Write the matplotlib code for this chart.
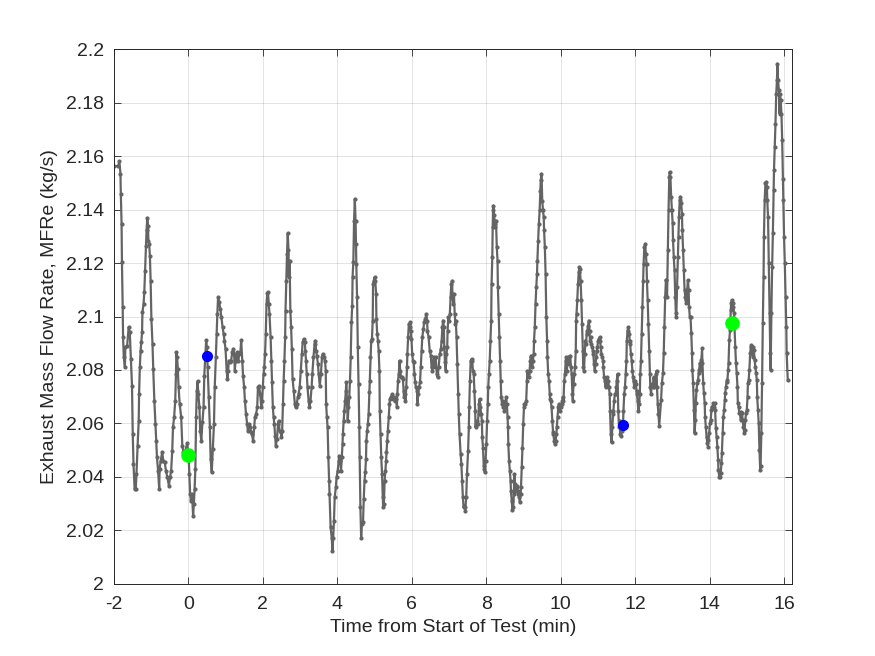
import matplotlib
matplotlib.use('Agg')
import matplotlib.pyplot as plt

plt.rcParams['font.family'] = ['Liberation Sans', 'DejaVu Sans']
plt.rcParams['axes.unicode_minus'] = False

# time from start of test (min) and exhaust mass flow rate (kg/s)
t_min = [
    -2.00, -1.88, -1.85, -1.82, -1.81, -1.79, -1.78, -1.76, -1.75, -1.73,
    -1.70, -1.69, -1.64, -1.60, -1.57, -1.54, -1.51, -1.49, -1.47, -1.44,
    -1.41, -1.39, -1.36, -1.33, -1.32, -1.30, -1.28, -1.26, -1.24, -1.23,
    -1.20, -1.18, -1.16, -1.14, -1.12, -1.10, -1.08, -1.07, -1.05, -1.03,
    -1.01, -0.99, -0.96, -0.94, -0.91, -0.88, -0.86, -0.84, -0.81, -0.78,
    -0.77, -0.74, -0.70, -0.67, -0.63, -0.60, -0.56, -0.52, -0.49, -0.46,
    -0.43, -0.41, -0.38, -0.35, -0.33, -0.32, -0.30, -0.28, -0.26, -0.23,
    -0.19, -0.16, -0.13, -0.08, -0.03, 0.01, 0.03, 0.05, 0.07, 0.10,
    0.13, 0.15, 0.17, 0.19, 0.21, 0.23, 0.25, 0.27, 0.30, 0.32,
    0.35, 0.38, 0.41, 0.43, 0.46, 0.48, 0.50, 0.52, 0.55, 0.58,
    0.60, 0.63, 0.66, 0.69, 0.71, 0.74, 0.76, 0.78, 0.80, 0.83,
    0.86, 0.89, 0.92, 0.95, 0.97, 1.00, 1.03, 1.05, 1.07, 1.09,
    1.13, 1.15, 1.18, 1.21, 1.23, 1.25, 1.27, 1.29, 1.32, 1.34,
    1.37, 1.40, 1.42, 1.45, 1.47, 1.50, 1.52, 1.55, 1.58, 1.60,
    1.63, 1.66, 1.69, 1.71, 1.74, 1.77, 1.79, 1.82, 1.85, 1.87,
    1.90, 1.93, 1.96, 1.98, 2.00, 2.02, 2.04, 2.06, 2.08, 2.10,
    2.12, 2.14, 2.16, 2.18, 2.21, 2.23, 2.25, 2.27, 2.29, 2.31,
    2.33, 2.35, 2.38, 2.41, 2.43, 2.45, 2.48, 2.50, 2.52, 2.54,
    2.56, 2.58, 2.60, 2.61, 2.63, 2.65, 2.67, 2.69, 2.70, 2.72,
    2.74, 2.76, 2.78, 2.80, 2.83, 2.86, 2.88, 2.91, 2.94, 2.96,
    2.99, 3.02, 3.05, 3.07, 3.10, 3.13, 3.14, 3.16, 3.18, 3.20,
    3.23, 3.25, 3.28, 3.31, 3.33, 3.36, 3.39, 3.41, 3.43, 3.45,
    3.48, 3.50, 3.53, 3.56, 3.59, 3.61, 3.64, 3.67, 3.69, 3.70,
    3.72, 3.74, 3.76, 3.78, 3.79, 3.82, 3.85, 3.87, 3.89, 3.91,
    3.93, 3.96, 3.98, 4.01, 4.04, 4.05, 4.08, 4.10, 4.12, 4.14,
    4.15, 4.17, 4.19, 4.21, 4.23, 4.24, 4.26, 4.28, 4.30, 4.32,
    4.34, 4.36, 4.38, 4.40, 4.41, 4.43, 4.45, 4.47, 4.49, 4.50,
    4.51, 4.53, 4.55, 4.57, 4.59, 4.60, 4.62, 4.64, 4.66, 4.69,
    4.71, 4.73, 4.75, 4.77, 4.78, 4.80, 4.82, 4.84, 4.86, 4.87,
    4.89, 4.91, 4.93, 4.95, 4.96, 4.98, 5.00, 5.02, 5.04, 5.05,
    5.07, 5.09, 5.11, 5.13, 5.14, 5.16, 5.18, 5.20, 5.22, 5.23,
    5.25, 5.27, 5.29, 5.31, 5.32, 5.34, 5.36, 5.38, 5.40, 5.41,
    5.44, 5.47, 5.50, 5.52, 5.55, 5.58, 5.60, 5.61, 5.63, 5.65,
    5.67, 5.69, 5.70, 5.73, 5.76, 5.78, 5.79, 5.81, 5.83, 5.85,
    5.87, 5.88, 5.90, 5.92, 5.94, 5.96, 5.97, 5.99, 6.01, 6.03,
    6.05, 6.07, 6.09, 6.11, 6.14, 6.15, 6.17, 6.19, 6.22, 6.24,
    6.26, 6.28, 6.31, 6.33, 6.36, 6.39, 6.41, 6.42, 6.45, 6.48,
    6.51, 6.53, 6.55, 6.57, 6.60, 6.62, 6.64, 6.67, 6.69, 6.72,
    6.75, 6.78, 6.80, 6.82, 6.84, 6.86, 6.87, 6.89, 6.91, 6.93,
    6.95, 6.96, 6.98, 7.00, 7.02, 7.04, 7.06, 7.08, 7.09, 7.11,
    7.13, 7.15, 7.17, 7.18, 7.20, 7.22, 7.24, 7.26, 7.28, 7.31,
    7.33, 7.35, 7.37, 7.39, 7.41, 7.43, 7.44, 7.46, 7.48, 7.51,
    7.53, 7.54, 7.56, 7.58, 7.61, 7.62, 7.64, 7.66, 7.68, 7.70,
    7.71, 7.73, 7.75, 7.77, 7.79, 7.80, 7.82, 7.84, 7.86, 7.88,
    7.89, 7.91, 7.93, 7.95, 7.96, 7.98, 8.00, 8.02, 8.04, 8.05,
    8.07, 8.09, 8.11, 8.13, 8.14, 8.16, 8.17, 8.18, 8.19, 8.21,
    8.23, 8.24, 8.26, 8.28, 8.30, 8.31, 8.33, 8.35, 8.37, 8.39,
    8.40, 8.42, 8.44, 8.46, 8.48, 8.49, 8.51, 8.53, 8.55, 8.57,
    8.58, 8.59, 8.61, 8.63, 8.65, 8.66, 8.68, 8.70, 8.72, 8.74,
    8.75, 8.77, 8.79, 8.81, 8.83, 8.84, 8.86, 8.88, 8.90, 8.92,
    8.93, 8.95, 8.97, 8.99, 9.01, 9.02, 9.05, 9.07, 9.09, 9.10,
    9.12, 9.14, 9.16, 9.18, 9.19, 9.21, 9.23, 9.25, 9.27, 9.28,
    9.30, 9.32, 9.34, 9.36, 9.37, 9.39, 9.41, 9.43, 9.45, 9.46,
    9.48, 9.50, 9.52, 9.54, 9.55, 9.57, 9.59, 9.61, 9.63, 9.64,
    9.66, 9.68, 9.70, 9.71, 9.73, 9.75, 9.77, 9.79, 9.80, 9.82,
    9.84, 9.86, 9.88, 9.89, 9.91, 9.93, 9.95, 9.98, 10.00, 10.02,
    10.04, 10.05, 10.07, 10.09, 10.11, 10.13, 10.14, 10.16, 10.18, 10.20,
    10.22, 10.23, 10.25, 10.27, 10.29, 10.31, 10.32, 10.34, 10.36, 10.38,
    10.40, 10.41, 10.42, 10.44, 10.46, 10.48, 10.50, 10.51, 10.53, 10.55,
    10.57, 10.59, 10.60, 10.62, 10.64, 10.66, 10.68, 10.69, 10.71, 10.73,
    10.75, 10.77, 10.78, 10.80, 10.82, 10.84, 10.86, 10.87, 10.89, 10.91,
    10.93, 10.95, 10.96, 10.98, 11.00, 11.02, 11.04, 11.05, 11.07, 11.09,
    11.11, 11.13, 11.14, 11.16, 11.18, 11.20, 11.22, 11.23, 11.25, 11.27,
    11.29, 11.31, 11.32, 11.34, 11.36, 11.38, 11.40, 11.41, 11.43, 11.45,
    11.47, 11.49, 11.50, 11.52, 11.54, 11.56, 11.58, 11.59, 11.61, 11.63,
    11.65, 11.67, 11.68, 11.70, 11.72, 11.74, 11.76, 11.77, 11.79, 11.81,
    11.83, 11.85, 11.86, 11.88, 11.90, 11.92, 11.94, 11.95, 11.97, 11.99,
    12.01, 12.03, 12.04, 12.06, 12.08, 12.10, 12.12, 12.13, 12.15, 12.17,
    12.19, 12.21, 12.22, 12.24, 12.26, 12.28, 12.30, 12.31, 12.33, 12.35,
    12.37, 12.39, 12.40, 12.42, 12.44, 12.46, 12.48, 12.49, 12.51, 12.53,
    12.55, 12.57, 12.58, 12.60, 12.62, 12.64, 12.69, 12.71, 12.74, 12.76,
    12.78, 12.80, 12.82, 12.83, 12.85, 12.87, 12.89, 12.91, 12.92, 12.94,
    12.96, 12.98, 13.00, 13.01, 13.03, 13.05, 13.07, 13.09, 13.10, 13.12,
    13.14, 13.16, 13.17, 13.19, 13.21, 13.23, 13.25, 13.26, 13.28, 13.30,
    13.32, 13.34, 13.35, 13.37, 13.39, 13.41, 13.43, 13.44, 13.46, 13.48,
    13.50, 13.52, 13.53, 13.55, 13.57, 13.59, 13.61, 13.62, 13.64, 13.66,
    13.68, 13.70, 13.71, 13.73, 13.75, 13.77, 13.79, 13.80, 13.82, 13.84,
    13.86, 13.87, 13.89, 13.91, 13.93, 13.95, 13.96, 13.98, 14.00, 14.02,
    14.04, 14.05, 14.07, 14.09, 14.11, 14.13, 14.14, 14.16, 14.18, 14.20,
    14.22, 14.23, 14.25, 14.27, 14.29, 14.31, 14.32, 14.34, 14.36, 14.38,
    14.40, 14.41, 14.43, 14.45, 14.47, 14.49, 14.50, 14.52, 14.54, 14.56,
    14.57, 14.59, 14.61, 14.63, 14.65, 14.66, 14.68, 14.70, 14.72, 14.74,
    14.75, 14.77, 14.79, 14.81, 14.83, 14.84, 14.86, 14.88, 14.90, 14.92,
    14.93, 14.95, 14.97, 14.99, 15.01, 15.02, 15.04, 15.06, 15.08, 15.10,
    15.11, 15.13, 15.15, 15.17, 15.18, 15.20, 15.22, 15.24, 15.26, 15.27,
    15.29, 15.31, 15.33, 15.35, 15.36, 15.38, 15.40, 15.42, 15.44, 15.45,
    15.47, 15.49, 15.51, 15.53, 15.54, 15.56, 15.58, 15.60, 15.62, 15.63,
    15.65, 15.67, 15.69, 15.71, 15.72, 15.74, 15.76, 15.78, 15.80, 15.81,
    15.83, 15.85, 15.87, 15.88, 15.90, 15.92, 15.94, 15.96, 15.97, 15.99,
    16.01, 16.03, 16.05, 16.06, 16.09,
]
mfre = [
    2.1563, 2.1563, 2.1581, 2.1534, 2.1459, 2.1347, 2.1203, 2.1035, 2.0922, 2.0847,
    2.0810, 2.0885, 2.0891, 2.0960, 2.0941, 2.0841, 2.0741, 2.0560, 2.0448, 2.0354,
    2.0354, 2.0411, 2.0517, 2.0610, 2.0710, 2.0810, 2.0872, 2.0904, 2.0941, 2.1016,
    2.1047, 2.1091, 2.1172, 2.1265, 2.1322, 2.1369, 2.1337, 2.1284, 2.1272, 2.1228,
    2.1134, 2.0991, 2.0897, 2.0804, 2.0685, 2.0598, 2.0535, 2.0473, 2.0423, 2.0354,
    2.0429, 2.0461, 2.0492, 2.0461, 2.0454, 2.0423, 2.0398, 2.0367, 2.0398, 2.0423,
    2.0498, 2.0585, 2.0623, 2.0685, 2.0785, 2.0866, 2.0847, 2.0804, 2.0735, 2.0673,
    2.0623, 2.0517, 2.0492, 2.0498, 2.0525, 2.0479, 2.0411, 2.0336, 2.0311, 2.0336,
    2.0255, 2.0298, 2.0354, 2.0429, 2.0623, 2.0723, 2.0758, 2.0710, 2.0660, 2.0573,
    2.0535, 2.0604, 2.0660, 2.0779, 2.0860, 2.0912, 2.0885, 2.0810, 2.0698, 2.0585,
    2.0467, 2.0417, 2.0504, 2.0598, 2.0735, 2.0847, 2.0935, 2.1010, 2.1072, 2.1053,
    2.1028, 2.0997, 2.0960, 2.0935, 2.0910, 2.0879, 2.0798, 2.0766, 2.0798, 2.0835,
    2.0829, 2.0835, 2.0866, 2.0879, 2.0860, 2.0798, 2.0835, 2.0847, 2.0866, 2.0835,
    2.0860, 2.0866, 2.0912, 2.0835, 2.0779, 2.0735, 2.0685, 2.0635, 2.0598, 2.0573,
    2.0598, 2.0585, 2.0567, 2.0560, 2.0535, 2.0585, 2.0623, 2.0635, 2.0660, 2.0735,
    2.0741, 2.0710, 2.0660, 2.0685, 2.0735, 2.0785, 2.0810, 2.0860, 2.0935, 2.1047,
    2.1087, 2.1091, 2.1047, 2.1010, 2.0922, 2.0835, 2.0754, 2.0660, 2.0623, 2.0598,
    2.0554, 2.0517, 2.0542, 2.0598, 2.0610, 2.0573, 2.0567, 2.0548, 2.0573, 2.0673,
    2.0760, 2.0835, 2.0922, 2.1022, 2.1134, 2.1234, 2.1312, 2.1247, 2.1147, 2.1209,
    2.1022, 2.0960, 2.0879, 2.0766, 2.0723, 2.0673, 2.0660, 2.0673, 2.0698, 2.0710,
    2.0735, 2.0798, 2.0860, 2.0904, 2.0916, 2.0904, 2.0872, 2.0835, 2.0785, 2.0735,
    2.0685, 2.0660, 2.0685, 2.0735, 2.0785, 2.0847, 2.0897, 2.0910, 2.0872, 2.0854,
    2.0822, 2.0785, 2.0741, 2.0785, 2.0850, 2.0860, 2.0847, 2.0835, 2.0798, 2.0673,
    2.0623, 2.0585, 2.0473, 2.0386, 2.0336, 2.0211, 2.0173, 2.0124, 2.0173, 2.0236,
    2.0323, 2.0361, 2.0398, 2.0423, 2.0461, 2.0479, 2.0461, 2.0423, 2.0473, 2.0523,
    2.0560, 2.0610, 2.0648, 2.0685, 2.0723, 2.0754, 2.0685, 2.0610, 2.0660, 2.0698,
    2.0760, 2.0847, 2.0978, 2.1041, 2.1147, 2.1203, 2.1359, 2.1440, 2.1359, 2.1272,
    2.1197, 2.1072, 2.0885, 2.0748, 2.0585, 2.0473, 2.0286, 2.0173, 2.0223, 2.0230,
    2.0317, 2.0386, 2.0417, 2.0467, 2.0535, 2.0573, 2.0598, 2.0635, 2.0716, 2.0760,
    2.0847, 2.0910, 2.0916, 2.0985, 2.1122, 2.1134, 2.1147, 2.1134, 2.1085, 2.0991,
    2.0935, 2.0910, 2.0872, 2.0797, 2.0648, 2.0560, 2.0473, 2.0411, 2.0323, 2.0286,
    2.0298, 2.0386, 2.0423, 2.0461, 2.0492, 2.0535, 2.0573, 2.0623, 2.0673, 2.0691,
    2.0698, 2.0710, 2.0691, 2.0698, 2.0685, 2.0691, 2.0660, 2.0710, 2.0760, 2.0785,
    2.0835, 2.0797, 2.0773, 2.0773, 2.0766, 2.0723, 2.0698, 2.0710, 2.0685, 2.0735,
    2.0810, 2.0860, 2.0922, 2.0972, 2.0960, 2.0978, 2.0947, 2.0916, 2.0860, 2.0835,
    2.0829, 2.0785, 2.0754, 2.0735, 2.0723, 2.0673, 2.0710, 2.0735, 2.0754, 2.0810,
    2.0872, 2.0922, 2.0953, 2.0978, 2.0991, 2.1010, 2.0985, 2.0947, 2.0922, 2.0872,
    2.0854, 2.0810, 2.0797, 2.0835, 2.0847, 2.0810, 2.0847, 2.0785, 2.0773, 2.0810,
    2.0860, 2.0879, 2.0910, 2.0960, 2.0985, 2.0960, 2.0885, 2.0829, 2.0797, 2.0860,
    2.0885, 2.0947, 2.0997, 2.0985, 2.1010, 2.1072, 2.1122, 2.1134, 2.1085, 2.1047,
    2.1085, 2.1010, 2.0972, 2.0985, 2.0922, 2.0822, 2.0710, 2.0635, 2.0560, 2.0485,
    2.0448, 2.0386, 2.0323, 2.0286, 2.0292, 2.0273, 2.0286, 2.0323, 2.0411, 2.0498,
    2.0585, 2.0660, 2.0760, 2.0835, 2.0841, 2.0835, 2.0797, 2.0785, 2.0723, 2.0648,
    2.0585, 2.0598, 2.0610, 2.0598, 2.0635, 2.0673, 2.0691, 2.0660, 2.0635, 2.0610,
    2.0548, 2.0510, 2.0442, 2.0429, 2.0417, 2.0461, 2.0523, 2.0610, 2.0673, 2.0735,
    2.0785, 2.0835, 2.0910, 2.0985, 2.1122, 2.1222, 2.1334, 2.1397, 2.1415, 2.1378,
    2.1334, 2.1347, 2.1359, 2.1259, 2.1209, 2.1109, 2.1010, 2.0922, 2.0835, 2.0760,
    2.0698, 2.0673, 2.0685, 2.0660, 2.0648, 2.0673, 2.0660, 2.0698, 2.0673, 2.0623,
    2.0585, 2.0523, 2.0461, 2.0423, 2.0386, 2.0348, 2.0311, 2.0276, 2.0286, 2.0336,
    2.0411, 2.0373, 2.0348, 2.0367, 2.0361, 2.0348, 2.0336, 2.0323, 2.0305, 2.0336,
    2.0361, 2.0436, 2.0510, 2.0598, 2.0660, 2.0673, 2.0673, 2.0685, 2.0760, 2.0797,
    2.0785, 2.0773, 2.0797, 2.0835, 2.0847, 2.0854, 2.0810, 2.0835, 2.0860, 2.0910,
    2.0960, 2.1047, 2.1109, 2.1159, 2.1209, 2.1284, 2.1347, 2.1397, 2.1471, 2.1509,
    2.1534, 2.1434, 2.1397, 2.1372, 2.1322, 2.1259, 2.1159, 2.0997, 2.0910, 2.0847,
    2.0785, 2.0760, 2.0710, 2.0691, 2.0685, 2.0660, 2.0610, 2.0567, 2.0560, 2.0535,
    2.0523, 2.0535, 2.0560, 2.0585, 2.0623, 2.0660, 2.0673, 2.0648, 2.0660, 2.0673,
    2.0685, 2.0698, 2.0685, 2.0760, 2.0785, 2.0835, 2.0847, 2.0797, 2.0835, 2.0847,
    2.0822, 2.0847, 2.0854, 2.0810, 2.0785, 2.0710, 2.0685, 2.0748, 2.0785, 2.0810,
    2.0872, 2.0985, 2.1010, 2.1060, 2.1122, 2.1166, 2.1184, 2.1178, 2.1134, 2.1060,
    2.0972, 2.0872, 2.0810, 2.0797, 2.0860, 2.0910, 2.0897, 2.0935, 2.0947, 2.0966,
    2.0985, 2.0947, 2.0910, 2.0922, 2.0897, 2.0885, 2.0872, 2.0860, 2.0822, 2.0797,
    2.0822, 2.0847, 2.0872, 2.0885, 2.0910, 2.0916, 2.0922, 2.0910, 2.0885, 2.0860,
    2.0847, 2.0835, 2.0810, 2.0773, 2.0760, 2.0735, 2.0748, 2.0760, 2.0773, 2.0760,
    2.0735, 2.0710, 2.0648, 2.0560, 2.0529, 2.0585, 2.0635, 2.0648, 2.0685, 2.0710,
    2.0710, 2.0735, 2.0760, 2.0785, 2.0648, 2.0585, 2.0610, 2.0560, 2.0554, 2.0573,
    2.0585, 2.0598, 2.0648, 2.0710, 2.0735, 2.0785, 2.0835, 2.0910, 2.0947, 2.0960,
    2.0935, 2.0910, 2.0897, 2.0860, 2.0835, 2.0797, 2.0773, 2.0760, 2.0735, 2.0760,
    2.0748, 2.0723, 2.0710, 2.0685, 2.0648, 2.0673, 2.0710, 2.0785, 2.0835, 2.0935,
    2.1035, 2.1134, 2.1197, 2.1259, 2.1272, 2.1234, 2.1197, 2.1134, 2.1060, 2.0972,
    2.0872, 2.0785, 2.0735, 2.0710, 2.0748, 2.0735, 2.0748, 2.0773, 2.0735, 2.0748,
    2.0785, 2.0797, 2.0735, 2.0673, 2.0635, 2.0592, 2.0688, 2.0750, 2.0787, 2.0862,
    2.0962, 2.1074, 2.1136, 2.1136, 2.1074, 2.1248, 2.1398, 2.1523, 2.1541, 2.1523,
    2.1448, 2.1398, 2.1348, 2.1286, 2.1223, 2.1174, 2.1074, 2.0999, 2.1012, 2.1111,
    2.1223, 2.1298, 2.1373, 2.1435, 2.1448, 2.1423, 2.1385, 2.1323, 2.1248, 2.1174,
    2.1099, 2.1074, 2.1062, 2.1049, 2.1099, 2.1136, 2.1099, 2.1037, 2.0999, 2.0999,
    2.0937, 2.0862, 2.0800, 2.0750, 2.0650, 2.0563, 2.0613, 2.0675, 2.0725, 2.0750,
    2.0762, 2.0787, 2.0800, 2.0825, 2.0800, 2.0837, 2.0881, 2.0825, 2.0750, 2.0713,
    2.0675, 2.0625, 2.0588, 2.0551, 2.0526, 2.0513, 2.0538, 2.0563, 2.0600, 2.0613,
    2.0650, 2.0663, 2.0656, 2.0675, 2.0663, 2.0675, 2.0650, 2.0582, 2.0551, 2.0513,
    2.0463, 2.0426, 2.0401, 2.0401, 2.0414, 2.0451, 2.0488, 2.0563, 2.0625, 2.0650,
    2.0688, 2.0713, 2.0738, 2.0756, 2.0762, 2.0800, 2.0825, 2.0912, 2.0949, 2.1024,
    2.1049, 2.1062, 2.1049, 2.1037, 2.1012, 2.0962, 2.0887, 2.0825, 2.0787, 2.0738,
    2.0675, 2.0663, 2.0638, 2.0638, 2.0613, 2.0644, 2.0638, 2.0613, 2.0588, 2.0563,
    2.0576, 2.0613, 2.0638, 2.0650, 2.0700, 2.0750, 2.0762, 2.0800, 2.0862, 2.0887,
    2.0893, 2.0887, 2.0850, 2.0887, 2.0875, 2.0837, 2.0812, 2.0787, 2.0762, 2.0700,
    2.0650, 2.0600, 2.0501, 2.0426, 2.0439, 2.0563, 2.0750, 2.0974, 2.1149, 2.1298,
    2.1435, 2.1498, 2.1504, 2.1485, 2.1435, 2.1373, 2.1199, 2.1012, 2.0862, 2.0800,
    2.1012, 2.1186, 2.1311, 2.1473, 2.1547, 2.1635, 2.1722, 2.1834, 2.1884, 2.1946,
    2.1884, 2.1846, 2.1759, 2.1834, 2.1809, 2.1759, 2.1660, 2.1516, 2.1435, 2.1298,
    2.1199, 2.1074, 2.0962, 2.0862, 2.0762,
]

# highlighted samples
green_t = [0.0, 14.58]
green_v = [2.0483, 2.0974]
blue_t = [0.51, 11.68]
blue_v = [2.0854, 2.0595]

fig = plt.figure(figsize=(8.75, 6.56), dpi=100)
ax = fig.add_axes([0.13, 0.11, 0.775, 0.815])

ax.plot(t_min, mfre, '-', color='#646464', lw=1.6, marker='.', ms=4, zorder=2)
ax.plot(green_t, green_v, 'o', color='#00ff00', ms=9.5, zorder=3)
ax.plot(blue_t, blue_v, 'o', color='#0000ff', ms=7, zorder=3)

ax.set_xlim(-2, 16.2)
ax.set_ylim(2, 2.2)
ax.set_xticks(range(-2, 17, 2))
yt = [2 + 0.02 * i for i in range(11)]
ax.set_yticks(yt)
ax.set_yticklabels(['%g' % round(v, 2) for v in yt])

ax.grid(True, color='#262626', alpha=0.15, lw=0.6)
ax.set_axisbelow(True)
for s in ax.spines.values():
    s.set_color('#262626')
    s.set_linewidth(0.7)
ax.tick_params(direction='in', top=True, right=True, length=5, width=0.6,
               colors='#262626', labelsize=14)
ax.tick_params(axis='y', pad=7)
ax.tick_params(axis='x', pad=9)

ax.set_xlabel('Time from Start of Test (min)', fontsize=14, color='#262626', labelpad=4)
ax.set_ylabel('Exhaust Mass Flow Rate, MFRe (kg/s)', fontsize=14, color='#262626', labelpad=6)

fig.savefig('out.png', dpi=100)
